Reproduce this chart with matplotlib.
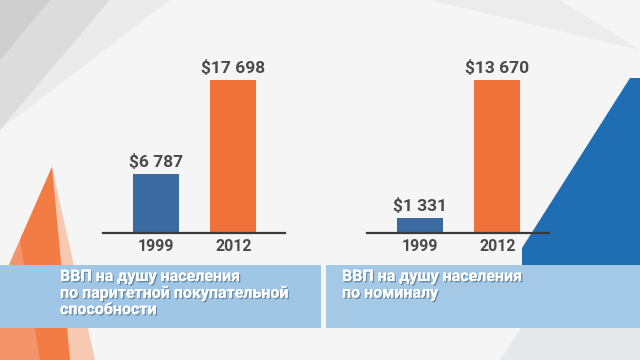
import matplotlib.pyplot as plt
import matplotlib.patheffects as pe
from matplotlib.patches import Polygon, Rectangle

years = ['1999', '2012']
ppp_values = [6787, 17698]
nominal_values = [1331, 13670]
ppp_labels = ['$6 787', '$17 698']
nominal_labels = ['$1 331', '$13 670']
ppp_title = 'ВВП на душу населения\nпо паритетной покупательной\nспособности'
nominal_title = 'ВВП на душу населения\nпо номиналу'

bar_colors = ['#3b6aa0', '#f0713a']
font = ['Liberation Sans Narrow', 'Roboto', 'DejaVu Sans']

fig = plt.figure(figsize=(6.4, 3.6), dpi=100)
fig.patch.set_facecolor('#f5f5f5')

# background decoration in pixel coordinates
bg = fig.add_axes([0, 0, 1, 1])
bg.set_xlim(0, 640)
bg.set_ylim(360, 0)
bg.axis('off')
shapes = [
    ([(0, 0), (110, 0), (0, 130)], '#dcdcdc'),
    ([(0, 0), (50, 0), (0, 60)], '#cfcfcf'),
    ([(110, 0), (170, 0), (0, 130)], '#ebebeb'),
    ([(430, 0), (560, 0), (640, 50)], '#ececec'),
    ([(52, 167), (95, 360), (70, 360)], '#f7c9b0'),
    ([(52, 167), (0, 285), (0, 360), (70, 360)], '#f4946a'),
    ([(52, 167), (20, 240), (40, 360), (70, 360)], '#f37c44'),
    ([(630, 78), (640, 78), (640, 268), (522, 268), (522, 248)], '#1f6eb4'),
    ([(560, 268), (640, 268), (640, 360), (500, 360)], '#e6e9ec'),
]
for pts, c in shapes:
    bg.add_patch(Polygon(pts, closed=True, color=c, lw=0))

# banners
bg.add_patch(Rectangle((0, 265), 321, 63, color='#9fc6e4', lw=0))
bg.add_patch(Rectangle((326, 265), 314, 63, color='#a3c9e6', lw=0))
shadow = [pe.withSimplePatchShadow(offset=(1, -1), shadow_rgbFace='#5a7d99', alpha=0.8), pe.Normal()]
bg.text(60, 269, ppp_title, color='white', fontsize=11.5, fontweight='bold',
        family=font, va='top', ha='left', linespacing=1.12, path_effects=shadow)
bg.text(342, 269, nominal_title, color='white', fontsize=11.5, fontweight='bold',
        family=font, va='top', ha='left', linespacing=1.12, path_effects=shadow)


def draw_panel(left_px, values, labels):
    ax = fig.add_axes([left_px / 640, (360 - 233) / 360, 182 / 640, 153 / 360])
    ax.patch.set_alpha(0)
    ax.bar([0, 1], values, width=0.6, color=bar_colors, zorder=2)
    ax.set_xlim(-0.69, 1.67)
    ax.set_ylim(0, max(values))
    for x, v, lab in zip([0, 1], values, labels):
        ax.annotate(lab, (x, v), xytext=(0, 3), textcoords='offset points',
                    ha='center', va='bottom', fontsize=12.5, fontweight='bold',
                    color='#4a4a4a', family=font, annotation_clip=False)
    for s in ['top', 'right', 'left']:
        ax.spines[s].set_visible(False)
    ax.spines['bottom'].set_color('#3a3a3a')
    ax.spines['bottom'].set_linewidth(1.6)
    ax.set_yticks([])
    ax.set_xticks([0, 1])
    ax.set_xticklabels(years, fontsize=11.5, fontweight='bold', color='#4a4a4a', family=font)
    ax.tick_params(axis='x', length=0, pad=4)
    return ax


draw_panel(103, ppp_values, ppp_labels)
draw_panel(367, nominal_values, nominal_labels)

fig.savefig('out.png', dpi=100, facecolor=fig.get_facecolor())
